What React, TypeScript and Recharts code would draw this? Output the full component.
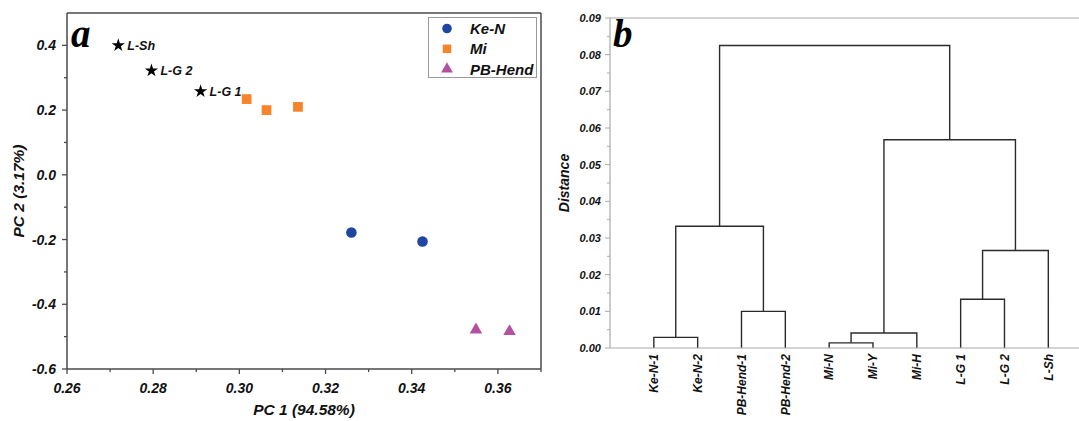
import React from 'react';
import {
  ScatterChart, Scatter, XAxis, YAxis, ReferenceLine, Label, Symbols,
  LineChart, Line,
} from 'recharts';

// ---------- Panel a: PCA ----------
const pcaKeN = [
  { x: 0.3260, y: -0.178 },
  { x: 0.3425, y: -0.206 },
];
const pcaMi = [
  { x: 0.3017, y: 0.234 },
  { x: 0.3063, y: 0.200 },
  { x: 0.3136, y: 0.210 },
];
const pcaPBHend = [
  { x: 0.3549, y: -0.479 },
  { x: 0.3627, y: -0.484 },
];
const pcaL = [
  { x: 0.2719, y: 0.400, name: 'L-Sh' },
  { x: 0.2796, y: 0.322, name: 'L-G 2' },
  { x: 0.2910, y: 0.258, name: 'L-G 1' },
];
const pcaXTicks = [0.26, 0.27, 0.28, 0.29, 0.30, 0.31, 0.32, 0.33, 0.34, 0.35, 0.36, 0.37];
const pcaYTicks = [-0.6, -0.5, -0.4, -0.3, -0.2, -0.1, 0.0, 0.1, 0.2, 0.3, 0.4];
const legendItems = [
  { name: 'Ke-N', type: 'circle', color: '#1F46A0' },
  { name: 'Mi', type: 'square', color: '#F5842A' },
  { name: 'PB-Hend', type: 'triangle', color: '#B3509F' },
];

// ---------- Panel b: dendrogram ----------
const leafLabels = ['Ke-N-1', 'Ke-N-2', 'PB-Hend-1', 'PB-Hend-2', 'Mi-N', 'Mi-Y', 'Mi-H', 'L-G 1', 'L-G 2', 'L-Sh'];
// [left node, right node, merge distance]; nodes 0-9 are leaves, 10+ are earlier merges
const merges: [number, number, number][] = [
  [0, 1, 0.0029],
  [2, 3, 0.0100],
  [4, 5, 0.0014],
  [12, 6, 0.0041],
  [7, 8, 0.0133],
  [14, 9, 0.0266],
  [10, 11, 0.0332],
  [13, 15, 0.0568],
  [16, 17, 0.0825],
];
const distTicks = [0, 0.005, 0.01, 0.015, 0.02, 0.025, 0.03, 0.035, 0.04, 0.045, 0.05, 0.055, 0.06, 0.065, 0.07, 0.075, 0.08, 0.085, 0.09];
const leafTicks = [1, 2, 3, 4, 5, 6, 7, 8, 9, 10];

const FONT = '"Liberation Sans", Arial, sans-serif';
const SERIF = '"Liberation Serif", "Times New Roman", serif';
const AX = '#4a4a4a';
const GRAYAX = '#aaaaaa';

function buildSegments() {
  const pos: number[] = leafLabels.map((_, i) => i + 1);
  const h: number[] = leafLabels.map(() => 0);
  const segs: { x: number; y: number }[][] = [];
  merges.forEach(([a, b, d]) => {
    segs.push([
      { x: pos[a], y: h[a] },
      { x: pos[a], y: d },
      { x: pos[b], y: d },
      { x: pos[b], y: h[b] },
    ]);
    pos.push((pos[a] + pos[b]) / 2);
    h.push(d);
  });
  return segs;
}
const segments = buildSegments();

const isMajor = (v: number, step: number) => Math.abs(v / step - Math.round(v / step)) < 1e-6;

const LeftYTick = (props: any) => {
  const { x, y, payload } = props;
  const major = isMajor(payload.value, 0.2);
  return (
    <g>
      <line x1={x - (major ? 5 : 3)} x2={x} y1={y} y2={y} stroke={AX} strokeWidth={1.3} />
      {major && (
        <text x={x - 11} y={y + 5} textAnchor="end" fontFamily={FONT} fontWeight="bold" fontStyle="italic" fontSize={14} fill="#111">
          {payload.value.toFixed(1)}
        </text>
      )}
    </g>
  );
};

const LeftXTick = (props: any) => {
  const { x, y, payload } = props;
  const major = isMajor(payload.value, 0.02);
  return (
    <g>
      <line x1={x} x2={x} y1={y} y2={y + (major ? 5 : 3)} stroke={AX} strokeWidth={1.3} />
      {major && (
        <text x={x} y={y + 24} textAnchor="middle" fontFamily={FONT} fontWeight="bold" fontStyle="italic" fontSize={14} fill="#111">
          {payload.value.toFixed(2)}
        </text>
      )}
    </g>
  );
};

const RightYTick = (props: any) => {
  const { x, y, payload } = props;
  const major = isMajor(payload.value, 0.01);
  return (
    <g>
      <line x1={x - (major ? 5 : 3)} x2={x} y1={y} y2={y} stroke={GRAYAX} strokeWidth={1} />
      {major && (
        <text x={x - 9} y={y + 4} textAnchor="end" fontFamily={FONT} fontWeight="bold" fontStyle="italic" fontSize={11} fill="#111">
          {payload.value.toFixed(2)}
        </text>
      )}
    </g>
  );
};

const LeafTick = (props: any) => {
  const { x, y, payload } = props;
  const label = leafLabels[payload.value - 1];
  const tx = x + 4.3;
  const ty = y + 6;
  return (
    <text x={tx} y={ty} transform={`rotate(-90 ${tx} ${ty})`} textAnchor="end" fontFamily={FONT} fontWeight="bold" fontStyle="italic" fontSize={12} fill="#111">
      {label}
    </text>
  );
};

const makeShape = (type: any, color: string, size: number) => (props: any) => (
  <Symbols cx={props.cx} cy={props.cy} type={type} size={size} fill={color} />
);

const StarShape = (props: any) => (
  <g>
    <Symbols cx={props.cx} cy={props.cy} type="star" size={55} fill="#000" />
    <text x={props.cx + 9} y={props.cy + 4.5} fontFamily={FONT} fontWeight="bold" fontStyle="italic" fontSize={12.5} fill="#111">
      {props.payload?.name}
    </text>
  </g>
);

const LegendBox = () => (
  <div style={{ position: 'absolute', left: 428, top: 17, border: '1px solid #9a9a9a', width: 107, height: 59, background: '#fff' }}>
    <svg width={107} height={59} style={{ display: 'block' }}>
      {legendItems.map((it, i) => (
        <g key={it.name}>
          <Symbols cx={18} cy={10.5 + i * 20.3} type={it.type as any} size={it.type === 'triangle' ? 60 : 72} fill={it.color} />
          <text x={41} y={16 + i * 20.3} fontFamily={FONT} fontWeight="bold" fontStyle="italic" fontSize={15} fill="#111">
            {it.name}
          </text>
        </g>
      ))}
    </svg>
  </div>
);

export default function App() {
  return (
    <div style={{ position: 'absolute', left: 0, top: 0, width: 1079, height: 421, background: '#fff', overflow: 'hidden' }}>
      <div style={{ position: 'absolute', left: 0, top: 0 }}>
        <ScatterChart width={560} height={421} margin={{ top: 13, right: 19, bottom: 0, left: 0 }}>
          <XAxis
            type="number" dataKey="x" domain={[0.26, 0.37]} ticks={pcaXTicks} interval={0}
            tick={<LeftXTick />} tickLine={false} tickSize={0} tickMargin={0} height={52}
            axisLine={{ stroke: AX, strokeWidth: 1.5 }} allowDataOverflow
          >
            <Label content={() => (
              <text x={304} y={415} textAnchor="middle" fontFamily={FONT} fontWeight="bold" fontStyle="italic" fontSize={15.5} fill="#111">PC 1 (94.58%)</text>
            )} />
          </XAxis>
          <YAxis
            type="number" dataKey="y" domain={[-0.6, 0.5]} ticks={pcaYTicks} interval={0}
            tick={<LeftYTick />} tickLine={false} tickSize={0} tickMargin={0} width={67}
            axisLine={{ stroke: AX, strokeWidth: 1.5 }} allowDataOverflow
          >
            <Label content={() => (
              <text x={24} y={191} transform="rotate(-90 24 191)" textAnchor="middle" fontFamily={FONT} fontWeight="bold" fontStyle="italic" fontSize={15.5} fill="#111">PC 2 (3.17%)</text>
            )} />
          </YAxis>
          <ReferenceLine y={0.5} stroke={AX} strokeWidth={1.5} />
          <ReferenceLine x={0.37} stroke={AX} strokeWidth={1.5} />
          <Scatter name="L" data={pcaL} shape={StarShape} isAnimationActive={false} />
          <Scatter name="Ke-N" data={pcaKeN} shape={makeShape('circle', '#1F46A0', 88)} isAnimationActive={false} />
          <Scatter name="Mi" data={pcaMi} shape={makeShape('square', '#F5842A', 95)} isAnimationActive={false} />
          <Scatter name="PB-Hend" data={pcaPBHend} shape={makeShape('triangle', '#B3509F', 68)} isAnimationActive={false} />
        </ScatterChart>
        <LegendBox />
        <div style={{ position: 'absolute', left: 71, top: 10, fontFamily: SERIF, fontWeight: 'bold', fontStyle: 'italic', fontSize: 39, lineHeight: '48px', color: '#000' }}>a</div>
      </div>

      <div style={{ position: 'absolute', left: 540, top: 0 }}>
        <LineChart width={539} height={421} margin={{ top: 18, right: 0, bottom: 0, left: 0 }}>
          <XAxis
            type="number" dataKey="x" domain={[0, 10.7]} ticks={leafTicks} interval={0}
            tick={<LeafTick />} tickLine={false} tickSize={0} tickMargin={0} height={73}
            axisLine={{ stroke: GRAYAX, strokeWidth: 1.2 }} allowDataOverflow
          />
          <YAxis
            type="number" dataKey="y" domain={[0, 0.09]} ticks={distTicks} interval={0}
            tick={<RightYTick />} tickLine={false} tickSize={0} tickMargin={0} width={70}
            axisLine={{ stroke: GRAYAX, strokeWidth: 1.2 }} allowDataOverflow
          >
            <Label content={() => (
              <text x={29} y={183} transform="rotate(-90 29 183)" textAnchor="middle" fontFamily={FONT} fontWeight="bold" fontStyle="italic" fontSize={14} fill="#111">Distance</text>
            )} />
          </YAxis>
          <ReferenceLine y={0.09} stroke={GRAYAX} strokeWidth={1.2} />
          {segments.map((seg, i) => (
            <Line key={i} data={seg} dataKey="y" type="linear" dot={false} activeDot={false}
              stroke="#2b2b2b" strokeWidth={1.4} isAnimationActive={false} />
          ))}
        </LineChart>
        <div style={{ position: 'absolute', left: 73, top: 10, fontFamily: SERIF, fontWeight: 'bold', fontStyle: 'italic', fontSize: 39, lineHeight: '48px', color: '#000' }}>b</div>
      </div>
    </div>
  );
}
